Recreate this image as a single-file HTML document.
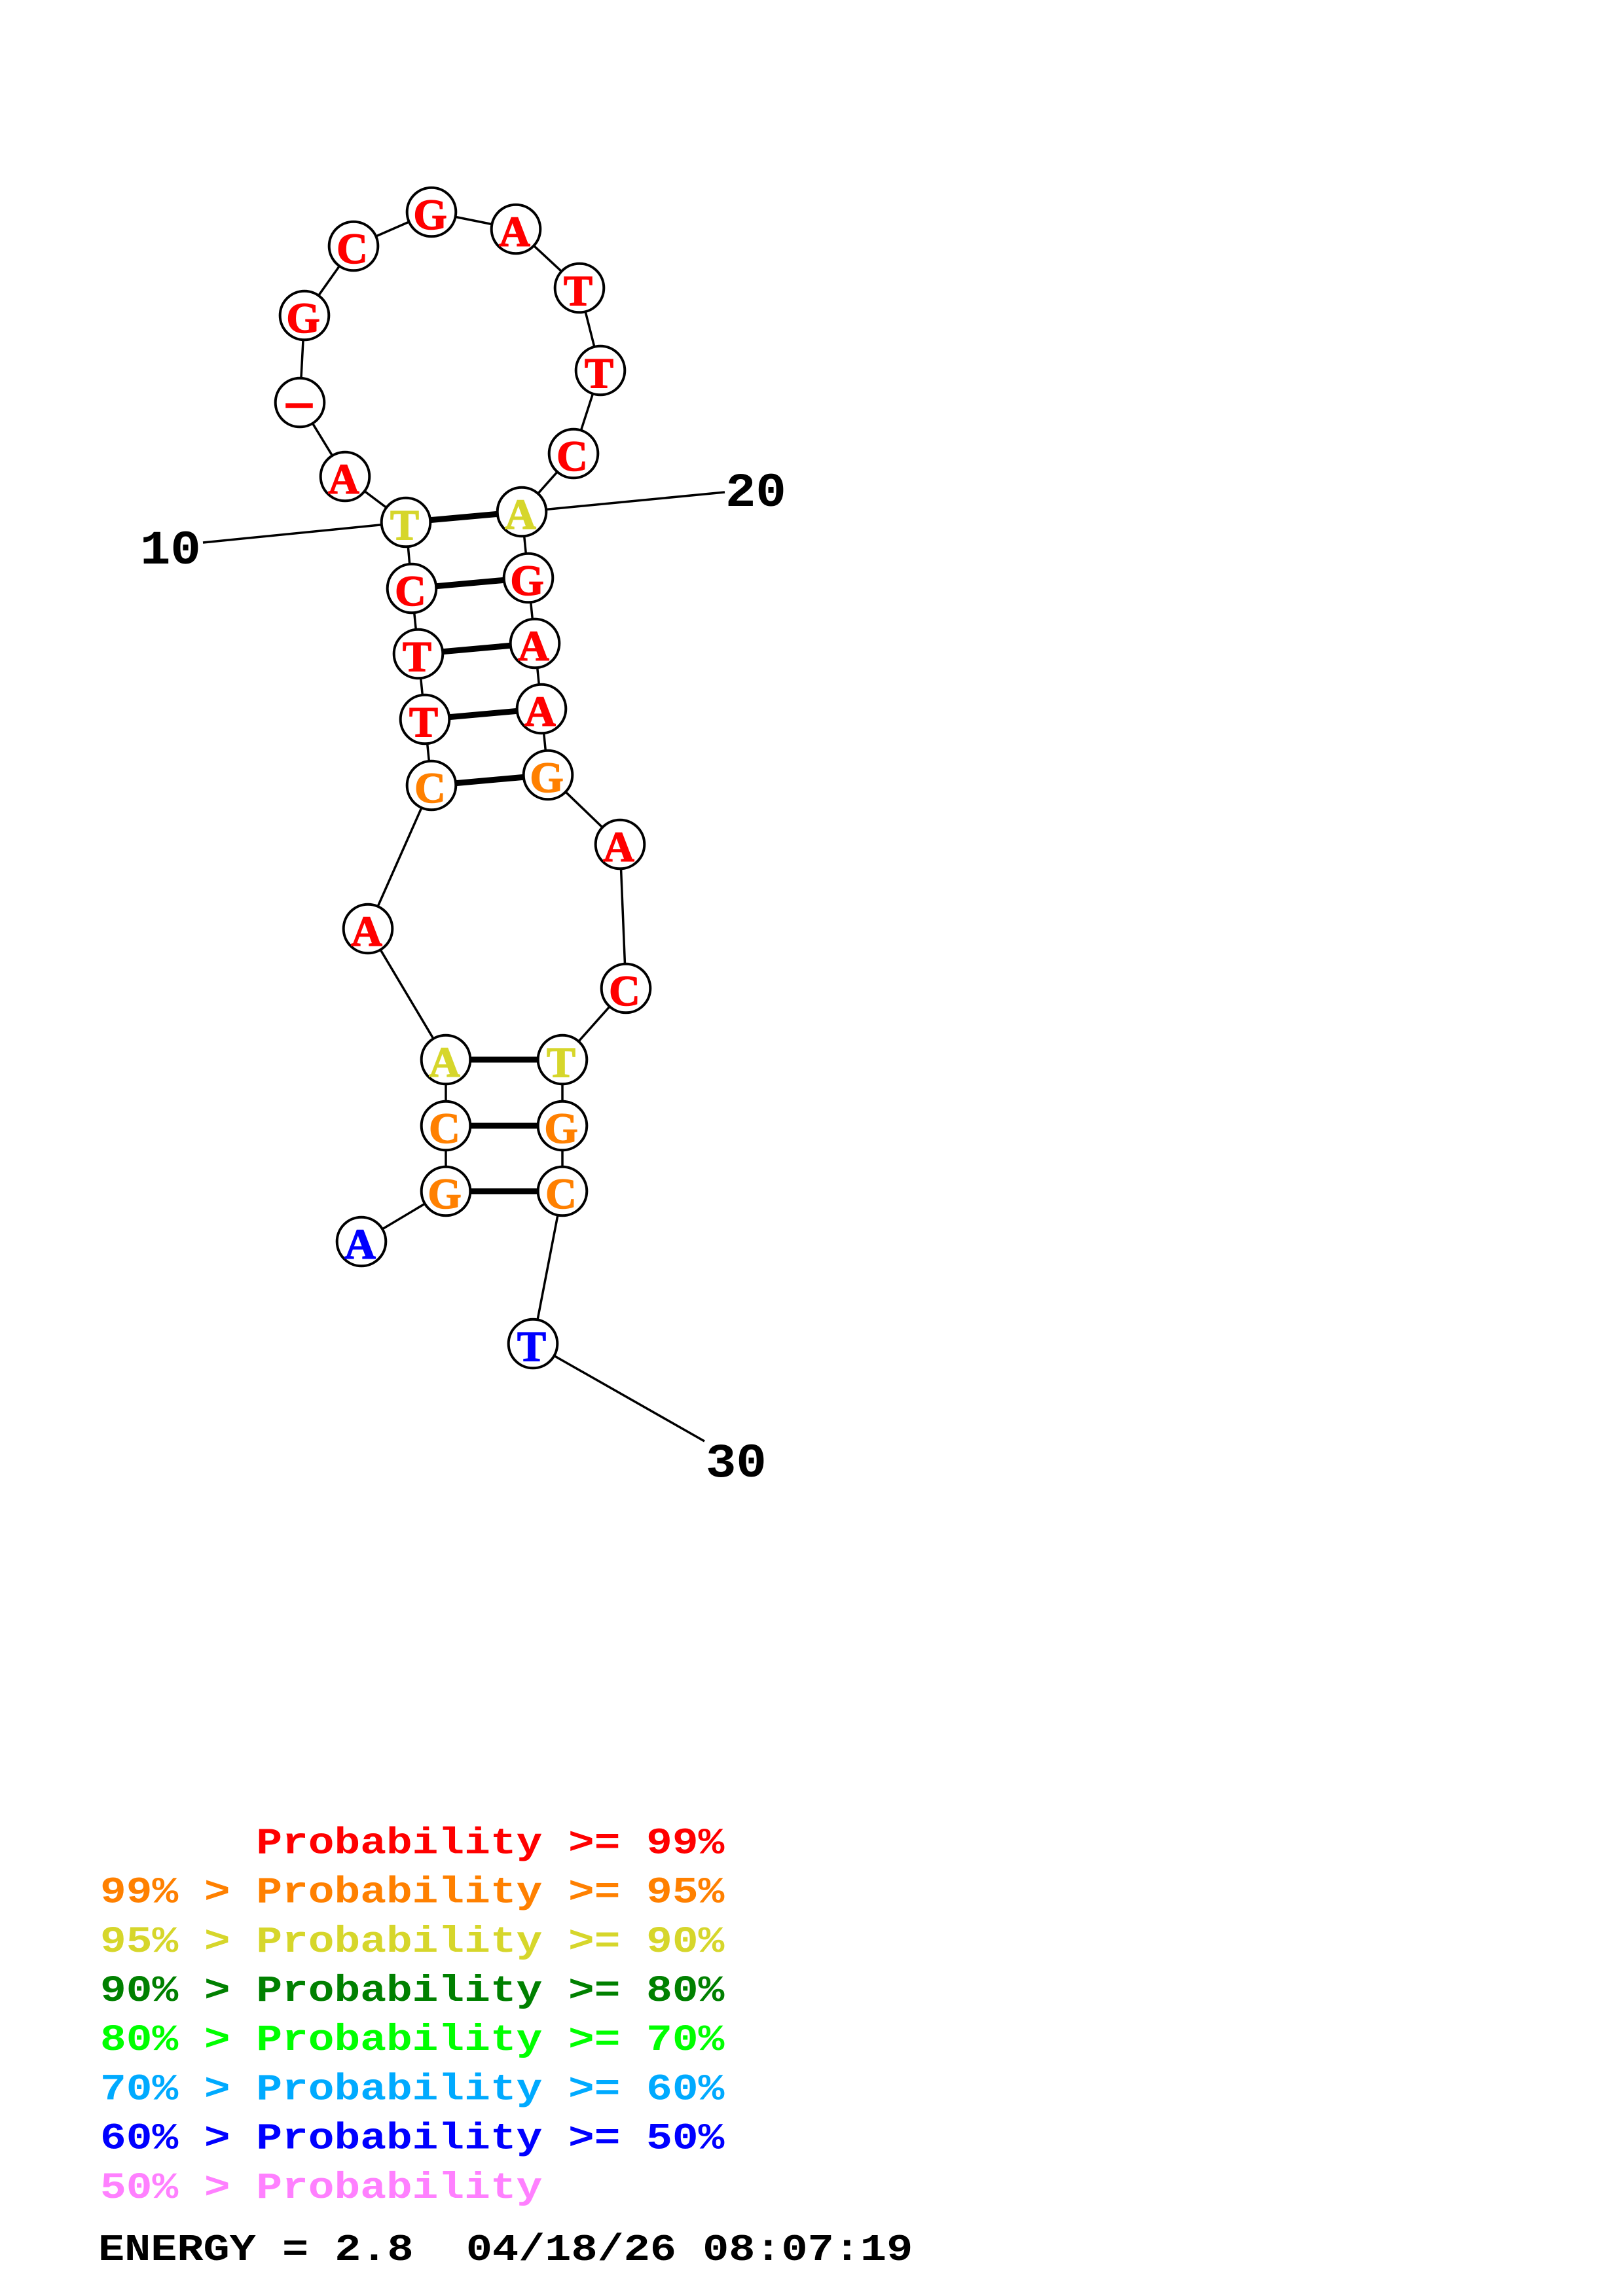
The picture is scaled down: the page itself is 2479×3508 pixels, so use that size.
<!DOCTYPE html>
<html><head><meta charset="utf-8"><style>
html,body{margin:0;padding:0;background:#fff}
svg{display:block}
text{white-space:pre}
.n{font-family:"Liberation Serif",serif;font-weight:bold;font-size:66px;text-anchor:middle;stroke-width:1.5px}
.n text{stroke:currentColor}
.m{font-family:"Liberation Mono",monospace;font-weight:bold}
.l{font-size:66.2px}
.b{font-size:73px;fill:#000}
</style></head><body>
<svg width="2479" height="3508" viewBox="0 0 2479 3508" xmlns="http://www.w3.org/2000/svg">
<rect width="2479" height="3508" fill="#fff"/>
<g fill="none" stroke="#000" stroke-width="3.5">
<polyline points="552,1897 681,1820 681,1720 681,1619 562,1419 659,1200 649,1099 639,999 629,899 620,798 527,728 458,615 465,482 540,376 659,324 788,350 885,440 917,566 876,693 797,782 807,883 817,983 827,1083 837,1184 947,1290 956,1510 859,1619 859,1720 859,1820 814,2053 1076,2202"/>
<line x1="620" y1="798" x2="310" y2="829"/>
<line x1="797" y1="782" x2="1107" y2="752"/>
</g>
<g stroke="#000" stroke-width="9">
<line x1="620" y1="798" x2="797" y2="782"/>
<line x1="629" y1="899" x2="807" y2="883"/>
<line x1="639" y1="999" x2="817" y2="983"/>
<line x1="649" y1="1099" x2="827" y2="1083"/>
<line x1="659" y1="1200" x2="837" y2="1184"/>
<line x1="681" y1="1619" x2="859" y2="1619"/>
<line x1="681" y1="1720" x2="859" y2="1720"/>
<line x1="681" y1="1820" x2="859" y2="1820"/>
</g>
<g fill="#fff" stroke="#000" stroke-width="4">
<circle cx="552" cy="1897" r="37.3"/><circle cx="681" cy="1820" r="37.3"/><circle cx="681" cy="1720" r="37.3"/><circle cx="681" cy="1619" r="37.3"/>
<circle cx="562" cy="1419" r="37.3"/><circle cx="659" cy="1200" r="37.3"/><circle cx="649" cy="1099" r="37.3"/><circle cx="639" cy="999" r="37.3"/>
<circle cx="629" cy="899" r="37.3"/><circle cx="620" cy="798" r="37.3"/><circle cx="527" cy="728" r="37.3"/><circle cx="458" cy="615" r="37.3"/>
<circle cx="465" cy="482" r="37.3"/><circle cx="540" cy="376" r="37.3"/><circle cx="659" cy="324" r="37.3"/><circle cx="788" cy="350" r="37.3"/>
<circle cx="885" cy="440" r="37.3"/><circle cx="917" cy="566" r="37.3"/><circle cx="876" cy="693" r="37.3"/><circle cx="797" cy="782" r="37.3"/>
<circle cx="807" cy="883" r="37.3"/><circle cx="817" cy="983" r="37.3"/><circle cx="827" cy="1083" r="37.3"/><circle cx="837" cy="1184" r="37.3"/>
<circle cx="947" cy="1290" r="37.3"/><circle cx="956" cy="1510" r="37.3"/><circle cx="859" cy="1619" r="37.3"/><circle cx="859" cy="1720" r="37.3"/>
<circle cx="859" cy="1820" r="37.3"/><circle cx="814" cy="2053" r="37.3"/>
</g>
<g class="n" transform="translate(-2,2)">
<text x="552" y="1921" fill="#0000ff" color="#0000ff">A</text>
<text x="681" y="1844" fill="#ff8000" color="#ff8000">G</text>
<text x="681" y="1744" fill="#ff8000" color="#ff8000">C</text>
<text x="681" y="1643" fill="#d6d62b" color="#d6d62b">A</text>
<text x="562" y="1443" fill="#ff0000" color="#ff0000">A</text>
<text x="659" y="1224" fill="#ff8000" color="#ff8000">C</text>
<text x="649" y="1123" fill="#ff0000" color="#ff0000">T</text>
<text x="639" y="1023" fill="#ff0000" color="#ff0000">T</text>
<text x="629" y="923" fill="#ff0000" color="#ff0000">C</text>
<text x="620" y="822" fill="#d6d62b" color="#d6d62b">T</text>
<text x="527" y="752" fill="#ff0000" color="#ff0000">A</text>
<text x="459" y="636" fill="#ff0000" color="#ff0000" style="font-size:78px">–</text>
<text x="465" y="506" fill="#ff0000" color="#ff0000">G</text>
<text x="540" y="400" fill="#ff0000" color="#ff0000">C</text>
<text x="659" y="348" fill="#ff0000" color="#ff0000">G</text>
<text x="788" y="374" fill="#ff0000" color="#ff0000">A</text>
<text x="885" y="464" fill="#ff0000" color="#ff0000">T</text>
<text x="917" y="590" fill="#ff0000" color="#ff0000">T</text>
<text x="876" y="717" fill="#ff0000" color="#ff0000">C</text>
<text x="797" y="806" fill="#d6d62b" color="#d6d62b">A</text>
<text x="807" y="907" fill="#ff0000" color="#ff0000">G</text>
<text x="817" y="1007" fill="#ff0000" color="#ff0000">A</text>
<text x="827" y="1107" fill="#ff0000" color="#ff0000">A</text>
<text x="837" y="1208" fill="#ff8000" color="#ff8000">G</text>
<text x="947" y="1314" fill="#ff0000" color="#ff0000">A</text>
<text x="956" y="1534" fill="#ff0000" color="#ff0000">C</text>
<text x="859" y="1643" fill="#d6d62b" color="#d6d62b">T</text>
<text x="859" y="1744" fill="#ff8000" color="#ff8000">G</text>
<text x="859" y="1844" fill="#ff8000" color="#ff8000">C</text>
<text x="814" y="2077" fill="#0000ff" color="#0000ff">T</text>
</g>
<text class="m b" transform="translate(214,861) scale(1.06,1)">10</text>
<text class="m b" transform="translate(1108,773) scale(1.06,1)">20</text>
<text class="m b" transform="translate(1078,2256) scale(1.06,1)">30</text>
<g class="m l">
<text transform="translate(153,2831.4) scale(1,.86)" fill="#ff0000">      Probability &gt;= 99%</text>
<text transform="translate(153,2906.6) scale(1,.86)" fill="#ff8000">99% &gt; Probability &gt;= 95%</text>
<text transform="translate(153,2981.8) scale(1,.86)" fill="#d6d62b">95% &gt; Probability &gt;= 90%</text>
<text transform="translate(153,3057) scale(1,.86)" fill="#008000">90% &gt; Probability &gt;= 80%</text>
<text transform="translate(153,3132.2) scale(1,.86)" fill="#00ff00">80% &gt; Probability &gt;= 70%</text>
<text transform="translate(153,3207.4) scale(1,.86)" fill="#00aaff">70% &gt; Probability &gt;= 60%</text>
<text transform="translate(153,3282.6) scale(1,.86)" fill="#0000ff">60% &gt; Probability &gt;= 50%</text>
<text transform="translate(153,3357.8) scale(1,.86)" fill="#ff80ff">50% &gt; Probability</text>
<text transform="translate(150,3453) scale(1.003,.86)" fill="#000" style="font-size:66.7px">ENERGY = 2.8  04/18/26 08:07:19</text>
</g>
</svg>
</body></html>
